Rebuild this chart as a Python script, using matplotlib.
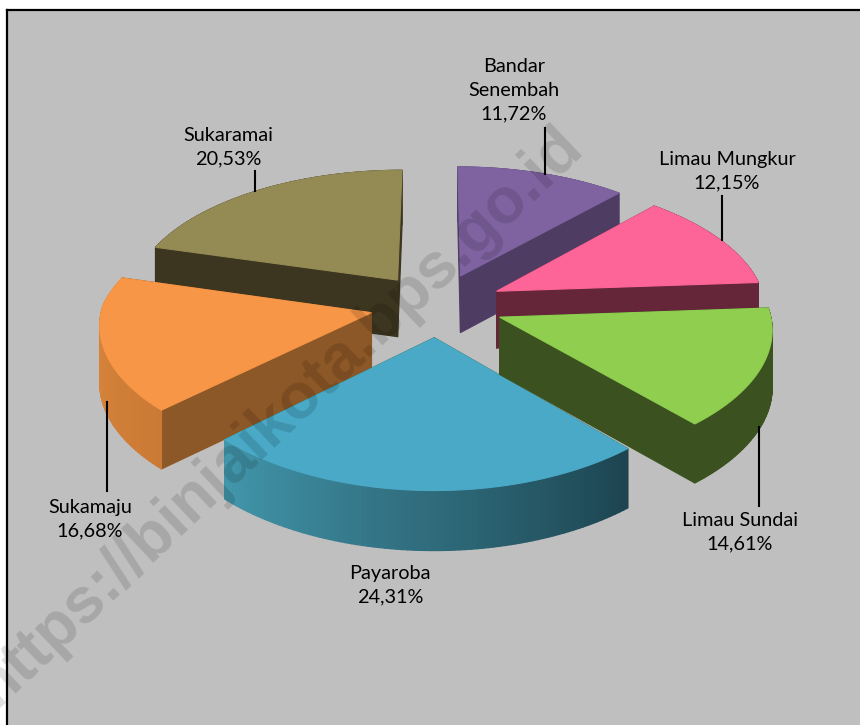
import numpy as np
import matplotlib
matplotlib.use('Agg')
import matplotlib.pyplot as plt
from matplotlib.collections import PolyCollection
from matplotlib.colors import to_rgb

plt.rcParams['font.family'] = ['Lato', 'DejaVu Sans']

names = ['Bandar\nSenembah', 'Limau Mungkur', 'Limau Sundai', 'Payaroba', 'Sukamaju', 'Sukaramai']
shares = [11.72, 12.15, 14.61, 24.31, 16.68, 20.53]
share_labels = ['11,72%', '12,15%', '14,61%', '24,31%', '16,68%', '20,53%']

top_cols = ['#7f63a1', '#fd6598', '#8fce4f', '#4aa9c6', '#f79646', '#948a54']
cut_cols = ['#4f3c62', '#662639', '#3b5220', '#3b5220', '#8d5827', '#3c3520']
# arc colour at the start and the end of each slice (clockwise)
arc_cols = [('#4f3c62', '#4f3c62'), ('#662639', '#662639'), ('#3b5220', '#3b5220'),
            ('#1d4450', '#4296ab'), ('#cb7a35', '#df8a3e'), ('#3c3520', '#3c3520')]

# projection of the tilted pie, pixels
cx, cy = 437, 305
bx, by = 269, 127.5
py = 0.113
explode = 0.25
thick = 57

def project(X, Y, bottom=False):
    px = np.where(Y > 0, 0.13, 0.08)
    sx = cx + bx*X/(1 + px*Y)
    sy = cy - by*Y/(1 + py*Y)
    if bottom:
        sy = sy + thick/(1 + 0.04*Y)
    return sx, sy

fig = plt.figure(figsize=(8.6, 7.25), dpi=100, facecolor='white')
ax = fig.add_axes([0, 0, 1, 1])
ax.set_xlim(0, 860)
ax.set_ylim(725, 0)
ax.axis('off')

ax.fill([7, 860, 860, 7], [10, 10, 725, 725], color='#bfbfbf', zorder=0)
ax.plot([7, 7], [725, 10], color='black', lw=1.6, zorder=1)
ax.plot([7, 860], [10, 10], color='black', lw=1.6, zorder=1)

edges = np.cumsum([0] + shares)/sum(shares)*360

def draw_slice(i, z):
    a0, a1 = np.radians(edges[i]), np.radians(edges[i+1])
    mid = (a0 + a1)/2
    ox, oy = explode*np.sin(mid), explode*np.cos(mid)
    th = np.linspace(a0, a1, 80)
    X = ox + np.sin(th)
    Y = oy + np.cos(th)

    pieces = []
    c0, c1 = to_rgb(arc_cols[i][0]), to_rgb(arc_cols[i][1])
    for k in range(len(th)-1):
        t = k/(len(th)-2)
        x0, y0 = project(X[k:k+2], Y[k:k+2])
        x1, y1 = project(X[k:k+2], Y[k:k+2], bottom=True)
        poly = [(x0[0], y0[0]), (x0[1], y0[1]), (x1[1], y1[1]), (x1[0], y1[0])]
        col = tuple((1-t)*c0[n] + t*c1[n] for n in range(3))
        pieces.append((Y[k], poly, col))
    for e in [0, -1]:
        xa, ya = project(np.array([ox, X[e]]), np.array([oy, Y[e]]))
        xb, yb = project(np.array([ox, X[e]]), np.array([oy, Y[e]]), bottom=True)
        poly = [(xa[0], ya[0]), (xa[1], ya[1]), (xb[1], yb[1]), (xb[0], yb[0])]
        pieces.append(((oy + Y[e])/2, poly, to_rgb(cut_cols[i])))

    # far pieces first
    pieces.sort(key=lambda p: -p[0])
    pc = PolyCollection([p[1] for p in pieces], facecolors=[p[2] for p in pieces],
                        edgecolors=[p[2] for p in pieces], linewidths=0.9, zorder=z)
    ax.add_collection(pc)

    sx, sy = project(np.r_[ox, X], np.r_[oy, Y])
    ax.fill(sx, sy, color=top_cols[i], lw=0.8, zorder=z+0.5)

# back to front: purple, olive, pink, orange, blue, green
for z, i in enumerate([0, 5, 1, 4, 3, 2]):
    draw_slice(i, 2 + z)

# leader lines
leaders = [(545, 128, 174), (722, 196, 240), (759, 427, 506), (106.5, 402, 491), (255, 171, 191)]
for x, y0, y1 in leaders:
    ax.plot([x, x], [y0, y1], color='black', lw=1.5, zorder=9)

label_pos = [(514, 90), (727, 171), (740, 532), (390, 585), (90, 519), (228, 147)]
for nm, sh, (x, y) in zip(names, share_labels, label_pos):
    ax.text(x, y, nm + '\n' + sh, ha='center', va='center', fontsize=14.3,
            color='black', linespacing=1.5, zorder=10)

ax.text(279, 417, 'https://binjaikota.bps.go.id', rotation=43.5, rotation_mode='anchor',
        ha='center', va='center', fontsize=46, fontweight='bold', color='black',
        alpha=0.13, zorder=11, family='Liberation Sans')

fig.savefig('out.png', dpi=100, facecolor='white')
